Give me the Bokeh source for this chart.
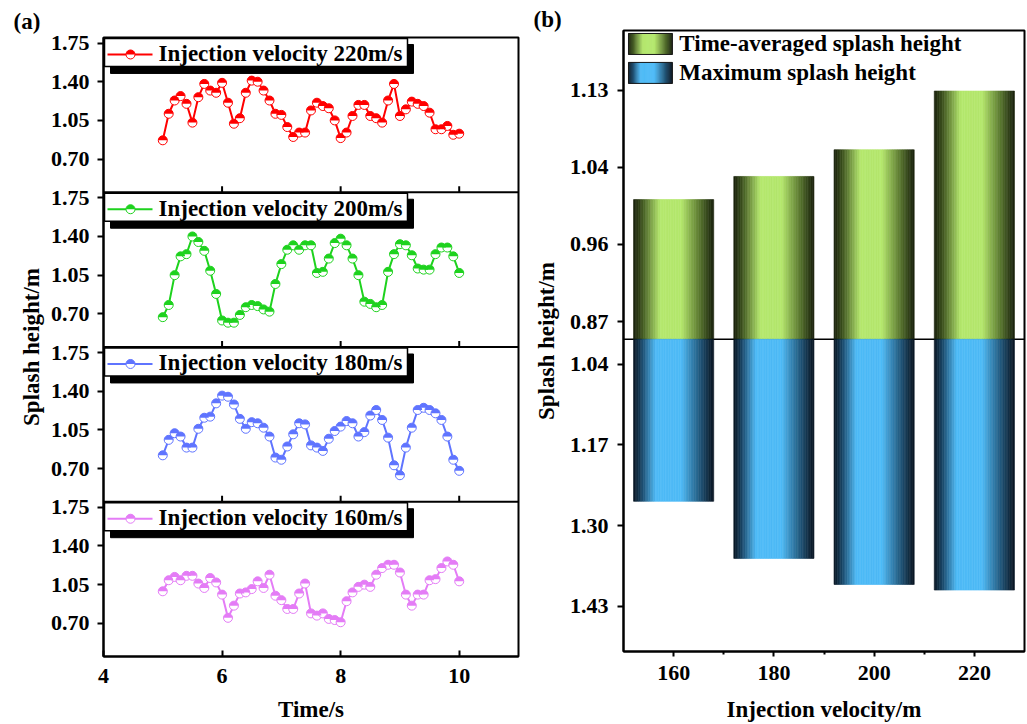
import numpy as np
from bokeh.plotting import figure
from bokeh.models import Range1d, FixedTicker, Span
from bokeh.layouts import row
from bokeh.embed import file_html
from bokeh.resources import INLINE
from bokeh.core.properties import value

# ---------------- data ----------------
time_s = [5.0, 5.1, 5.2, 5.3, 5.4, 5.5, 5.6, 5.7, 5.8, 5.9,
          6.0, 6.1, 6.2, 6.3, 6.4, 6.5, 6.6, 6.7, 6.8, 6.9,
          7.0, 7.1, 7.2, 7.3, 7.4, 7.5, 7.6, 7.7, 7.8, 7.9,
          8.0, 8.1, 8.2, 8.3, 8.4, 8.5, 8.6, 8.7, 8.8, 8.9,
          9.0, 9.1, 9.2, 9.3, 9.4, 9.5, 9.6, 9.7, 9.8, 9.9, 10.0]

h220 = [0.87, 1.11, 1.23, 1.27, 1.20, 1.03, 1.26, 1.38, 1.32, 1.30,
        1.39, 1.21, 1.02, 1.07, 1.30, 1.41, 1.40, 1.32, 1.23, 1.11,
        1.10, 0.99, 0.90, 0.94, 0.94, 1.14, 1.21, 1.18, 1.16, 1.05,
        0.89, 0.94, 1.09, 1.19, 1.19, 1.09, 1.07, 1.03, 1.23, 1.38,
        1.09, 1.15, 1.22, 1.20, 1.18, 1.12, 0.97, 0.97, 1.00, 0.92, 0.93]
h200 = [0.67, 0.78, 1.05, 1.22, 1.24, 1.40, 1.35, 1.27, 1.09, 0.88,
        0.64, 0.62, 0.62, 0.69, 0.76, 0.78, 0.77, 0.74, 0.72, 0.97,
        1.15, 1.28, 1.32, 1.28, 1.32, 1.32, 1.07, 1.08, 1.20, 1.34,
        1.38, 1.32, 1.20, 1.05, 0.81, 0.79, 0.76, 0.78, 1.08, 1.24,
        1.33, 1.32, 1.23, 1.11, 1.10, 1.10, 1.24, 1.30, 1.30, 1.22, 1.07]
h180 = [0.82, 0.96, 1.02, 0.99, 0.89, 0.89, 1.06, 1.16, 1.17, 1.29,
        1.36, 1.35, 1.28, 1.15, 1.06, 1.12, 1.11, 1.07, 0.99, 0.80,
        0.78, 0.90, 1.01, 1.11, 1.10, 0.91, 0.89, 0.86, 0.97, 1.04,
        1.08, 1.13, 1.11, 0.99, 1.03, 1.18, 1.23, 1.14, 0.98, 0.73,
        0.64, 0.89, 1.07, 1.23, 1.25, 1.23, 1.20, 1.14, 0.99, 0.78, 0.68]
h160 = [0.99, 1.09, 1.12, 1.09, 1.13, 1.13, 1.06, 1.02, 1.11, 1.07,
        0.96, 0.75, 0.86, 0.97, 0.98, 1.01, 1.08, 1.02, 1.14, 0.95,
        0.91, 0.83, 0.83, 0.97, 1.06, 0.79, 0.77, 0.79, 0.74, 0.73,
        0.71, 0.90, 0.98, 1.03, 1.05, 1.03, 1.14, 1.20, 1.23, 1.23,
        1.16, 0.96, 0.86, 0.96, 0.96, 1.09, 1.10, 1.20, 1.26, 1.23, 1.08]

panel_labels = ["Injection velocity 160m/s", "Injection velocity 180m/s",
                "Injection velocity 200m/s", "Injection velocity 220m/s"]
panel_series = [h160, h180, h200, h220]          # bottom -> top
panel_colors = ["#e47cf6", "#5f74ff", "#1ed21e", "#ff0000"]
a_tick_vals = [0.70, 1.05, 1.40, 1.75]
a_xticks = [4, 6, 8, 10]

velocities = [160, 180, 200, 220]
avg_height = [1.007, 1.033, 1.063, 1.129]
max_height = [1.261, 1.353, 1.395, 1.404]
b_top_ticks = [0.87, 0.87 + 0.26 / 3, 0.87 + 0.52 / 3, 1.13]
b_top_labels = ["0.87", "0.96", "1.04", "1.13"]
b_bot_ticks = [1.04, 1.17, 1.30, 1.43]
b_bot_labels = ["1.04", "1.17", "1.30", "1.43"]
legend_b = ["Time-averaged splash height", "Maximum splash height"]

FONT = "Liberation Serif"
H = 724


def style_axis(ax):
    ax.major_label_text_font = FONT
    ax.major_label_text_font_style = "bold"
    ax.major_label_text_font_size = "22px"
    ax.major_label_text_color = "black"
    ax.axis_label_text_font = FONT
    ax.axis_label_text_font_style = "bold"
    ax.axis_label_text_font_size = "23px"
    ax.axis_label_text_color = "black"
    ax.axis_line_width = 2
    ax.axis_line_color = "black"
    ax.major_tick_line_width = 2
    ax.major_tick_line_color = "black"
    ax.minor_tick_line_width = 2
    ax.minor_tick_line_color = "black"


def style_title(p, txt, standoff):
    p.title.text = txt
    p.title.align = "left"
    p.title.offset = -90
    p.title.text_font = FONT
    p.title.text_font_style = "bold"
    p.title.text_font_size = "23px"
    p.title.text_color = "black"
    p.title.standoff = standoff


# ---------------- panel (a) ----------------
WA = 530
A_L, A_R, A_T, A_B = 103, 12, 37, 67
FW_A, FH_A = WA - A_L - A_R, H - A_T - A_B
XA0, XA1 = 4.0, 11.0
LO, HI = 0.40, 1.80
D = HI - LO

fa = figure(width=WA, height=H, output_backend="svg", toolbar_location=None,
            x_range=Range1d(XA0, XA1), y_range=Range1d(0, 4),
            min_border_left=A_L, min_border_right=A_R,
            min_border_top=A_T, min_border_bottom=A_B, frame_align=False)
fa.xgrid.grid_line_color = None
fa.ygrid.grid_line_color = None
fa.outline_line_color = "black"
fa.outline_line_width = 2
fa.outline_line_alpha = 1
style_title(fa, "(a)", 8)

for k in range(4):
    fa.extra_y_ranges[f"p{k}"] = Range1d(LO - k * D, HI + (3 - k) * D)

ypos, over = [], {}
for k in range(4):
    for v in a_tick_vals:
        pos = k + (v - LO) / D
        ypos.append(pos)
        over[pos] = f"{v:.2f}"
ya = fa.yaxis[0]
ya.ticker = FixedTicker(ticks=ypos, minor_ticks=[])
ya.major_label_overrides = over
ya.major_tick_out = 6
ya.major_tick_in = 0
ya.major_label_standoff = 8
ya.axis_label = "Splash height/m"
ya.axis_label_standoff = 4
style_axis(ya)

xa = fa.xaxis[0]
xa.ticker = FixedTicker(ticks=a_xticks, minor_ticks=[])
xa.major_tick_in = 6
xa.major_tick_out = 0
xa.major_label_standoff = 12
xa.axis_label = "Time/s"
xa.axis_label_standoff = 11
style_axis(xa)

for k in range(1, 4):
    fa.add_layout(Span(location=k, dimension="width", line_color="black", line_width=2))
# inward ticks at internal panel boundaries
tx = [t for k in range(1, 4) for t in a_xticks[1:]]
ty = [k for k in range(1, 4) for t in a_xticks[1:]]
fa.ray(x=tx, y=ty, length=6, length_units="screen", angle=np.pi / 2,
       line_color="black", line_width=2)

for k in range(4):
    c = panel_colors[k]
    rn = f"p{k}"
    fa.line(time_s, panel_series[k], line_color=c, line_width=2, y_range_name=rn)
    fa.scatter(time_s, panel_series[k], size=9, marker="circle", fill_color="white",
               line_color=c, line_width=1, y_range_name=rn)
    fa.wedge(time_s, panel_series[k], radius=4.5, radius_units="screen",
             start_angle=0, end_angle=np.pi, fill_color=c, line_color=None,
             y_range_name=rn)

# legends of panel (a), drawn in panel units on top of everything
sxa = (XA1 - XA0) / FW_A
sya = 4.0 / FH_A
for k in range(4):
    c = panel_colors[k]
    top = k + 1
    fa.quad(left=[XA0 + 7 * sxa], right=[XA0 + 310 * sxa],
            top=[top - 7 * sya], bottom=[top - 36 * sya],
            fill_color="black", line_color="black", level="annotation")
    fa.quad(left=[XA0 + 1 * sxa], right=[XA0 + 304 * sxa],
            top=[top - 1 * sya], bottom=[top - 29 * sya],
            fill_color="white", line_color="black", line_width=1.5, level="annotation")
    fa.line([XA0 + 4 * sxa, XA0 + 49 * sxa], [top - 17 * sya] * 2, line_color=c,
            line_width=2, level="overlay")
    fa.scatter([XA0 + 27 * sxa], [top - 17 * sya], size=9, marker="circle",
               fill_color="white", line_color=c, line_width=1, level="overlay")
    fa.wedge([XA0 + 27 * sxa], [top - 17 * sya], radius=4.5, radius_units="screen",
             start_angle=0, end_angle=np.pi, fill_color=c, line_color=None,
             level="overlay")
    fa.text([XA0 + 55 * sxa], [top - 16 * sya], text=[panel_labels[k]],
            text_font=value(FONT), text_font_style="bold", text_font_size="23px",
            text_baseline="middle", text_align="left", text_color="black",
            level="overlay")

# ---------------- panel (b) ----------------
WB = 497
B_L, B_R, B_T, B_B = 92, 3, 30, 72
FW_B, FH_B = WB - B_L - B_R, H - B_T - B_B
XB0, XB1 = 150.0, 230.0
BW = 16.0
TOP_LO, TOP_HI = 0.85, 1.197
BOT_LO, BOT_HI = 1.0, 1.503
F = 0.5027
top_start = TOP_LO - (TOP_HI - TOP_LO) * F / (1 - F)
bot_end = BOT_LO - (BOT_HI - BOT_LO) * (1 - F) / F

fb = figure(width=WB, height=H, output_backend="svg", toolbar_location=None,
            x_range=Range1d(XB0, XB1), y_range=Range1d(top_start, TOP_HI),
            min_border_left=B_L, min_border_right=B_R,
            min_border_top=B_T, min_border_bottom=B_B, frame_align=False)
fb.extra_y_ranges["bot"] = Range1d(BOT_HI, bot_end)
fb.xgrid.grid_line_color = None
fb.ygrid.grid_line_color = None
fb.outline_line_color = "black"
fb.outline_line_width = 2
fb.outline_line_alpha = 1
style_title(fb, "(b)", -2)

span_top = TOP_HI - top_start
ypb, overb = [], {}
for v, lab in zip(b_top_ticks, b_top_labels):
    ypb.append(v)
    overb[v] = lab
for v, lab in zip(b_bot_ticks, b_bot_labels):
    frac = (BOT_HI - v) / (BOT_HI - BOT_LO) * F
    pos = top_start + frac * span_top
    ypb.append(pos)
    overb[pos] = lab
yb = fb.yaxis[0]
yb.ticker = FixedTicker(ticks=ypb, minor_ticks=[])
yb.major_label_overrides = overb
yb.major_tick_out = 6
yb.major_tick_in = 0
yb.major_label_standoff = 9
yb.axis_label = "Splash height/m"
yb.axis_label_standoff = 8
style_axis(yb)

xb = fb.xaxis[0]
xb.ticker = FixedTicker(ticks=velocities, minor_ticks=[170, 190, 210])
xb.major_tick_out = 5
xb.major_tick_in = 0
xb.minor_tick_out = 3
xb.minor_tick_in = 0
xb.major_label_standoff = 9
xb.axis_label = "Injection velocity/m"
xb.axis_label_standoff = 14
style_axis(xb)


def grad(stops, t):
    for (t0, c0), (t1, c1) in zip(stops[:-1], stops[1:]):
        if t0 <= t <= t1:
            f = (t - t0) / (t1 - t0) if t1 > t0 else 0
            r, g, b = [int(round(a + (bb - a) * f)) for a, bb in zip(c0, c1)]
            return f"#{r:02x}{g:02x}{b:02x}"
    return "#000000"


green_stops = [(0.0, (24, 32, 12)), (0.10, (58, 78, 28)), (0.33, (180, 231, 108)),
               (0.60, (180, 231, 108)), (0.82, (92, 122, 48)), (1.0, (24, 32, 12))]
blue_stops = [(0.0, (8, 20, 32)), (0.10, (24, 68, 100)), (0.28, (78, 186, 246)),
              (0.60, (78, 186, 246)), (0.82, (34, 92, 130)), (1.0, (8, 20, 32))]
NS = 48

fb.add_layout(Span(location=TOP_LO, dimension="width", line_color="black",
                   line_width=1.5, level="underlay"))

for i, v in enumerate(velocities):
    L, R, cg, cb = [], [], [], []
    for j in range(NS):
        t = (j + 0.5) / NS
        L.append(v - BW / 2 + j * BW / NS)
        R.append(v - BW / 2 + (j + 1) * BW / NS)
        cg.append(grad(green_stops, t))
        cb.append(grad(blue_stops, t))
    fb.quad(left=L, right=R, bottom=[TOP_LO] * NS, top=[avg_height[i]] * NS,
            fill_color=cg, line_color=cg, line_width=0.6)
    fb.quad(left=L, right=R, bottom=[BOT_LO] * NS, top=[max_height[i]] * NS,
            fill_color=cb, line_color=cb, line_width=0.6, y_range_name="bot")

# legend (b)
sxb = (XB1 - XB0) / FW_B
syb = span_top / FH_B
for n, (stops, lab) in enumerate(zip([green_stops, blue_stops], legend_b)):
    ytop = TOP_HI - (3 + 29 * n) * syb
    ybot = TOP_HI - (24 + 29 * n) * syb
    x0 = XB0 + 5 * sxb
    x1 = XB0 + 49 * sxb
    L = [x0 + (x1 - x0) * j / NS for j in range(NS)]
    R = [x0 + (x1 - x0) * (j + 1) / NS for j in range(NS)]
    cols = [grad(stops, (j + 0.5) / NS) for j in range(NS)]
    fb.quad(left=L, right=R, bottom=[ybot] * NS, top=[ytop] * NS,
            fill_color=cols, line_color=cols, line_width=0.6, level="overlay")
    fb.quad(left=[x0], right=[x1], bottom=[ybot], top=[ytop], fill_color=None,
            line_color="#1a1a1a", line_width=1, level="overlay")
    fb.text([XB0 + 56 * sxb], [TOP_HI - (13.5 + 28.5 * n) * syb], text=[lab],
            text_font=value(FONT), text_font_style="bold", text_font_size="23px",
            text_baseline="middle", text_align="left", text_color="black",
            level="overlay")

layout = row(fa, fb)
open("out.html", "w").write(file_html(layout, INLINE))
